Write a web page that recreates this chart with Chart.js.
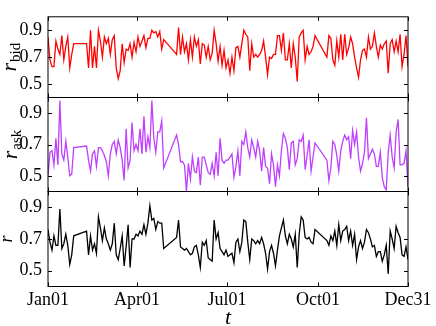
<!DOCTYPE html>
<html>
<head>
<meta charset="utf-8">
<script src="https://cdn.jsdelivr.net/npm/chart.js@4.4.1/dist/chart.umd.min.js"></script>
<style>
  html, body { margin: 0; padding: 0; background: #fff; }
  #wrap { position: relative; width: 436px; height: 326px; }
  #wrap canvas { position: absolute; left: 0; top: 0; }
</style>
</head>
<body>
<div id="wrap">
  <canvas id="bidChart" width="436" height="326"></canvas>
  <canvas id="askChart" width="436" height="326"></canvas>
  <canvas id="midChart" width="436" height="326"></canvas>
</div>
<script>
const SERIF = '"Liberation Serif", "Times New Roman", serif';

// trading-day stretches (day of year), holidays in between
const segments = [[0, 26], [39, 117], [130, 270], [282, 364]];
const tickDays = [0, 90, 181, 273, 364];
const tickLabels = ['Jan01', 'Apr01', 'Jul01', 'Oct01', 'Dec31'];
const yTicks = [0.5, 0.7, 0.9];

const bidValues = [
  0.85,0.68,0.63,0.63,0.82,0.76,0.72,0.86,0.68,0.78,0.85,0.62,0.72,0.80,
  0.80,0.62,0.90,0.62,0.78,0.62,0.90,0.82,0.70,0.85, 0.80,0.84,0.72,0.83,0.86,0.62,0.54,0.60,0.80,0.66,
  0.76,0.75,0.80,0.70,0.81,0.74,0.85,0.78,0.82,0.86, 0.77,0.84,0.84,0.90,0.88,0.89,0.85,0.89,0.76,0.83,
  0.72,0.92,0.72,0.85,0.74,0.80,0.68,0.83,0.70,0.85, 0.78,0.83,0.65,0.80,0.79,0.70,0.78,0.68,0.73,0.90,
  0.80,0.67,0.78,0.64,0.75,0.62,0.68,0.58,0.70,0.60, 0.77,0.78,0.70,0.80,0.90,0.87,0.85,0.60,0.80,0.70,
  0.72,0.70,0.72,0.75,0.82,0.70,0.57,0.70,0.69,0.72, 0.72,0.86,0.86,0.75,0.88,0.68,0.68,0.80,0.62,0.80,
  0.70,0.52,0.85,0.88,0.90,0.68,0.78,0.72,0.74,0.78, 0.86,
  0.70,0.86,0.84,0.68,0.64,0.82,0.70,0.87,0.68,0.87, 0.72,0.77,0.85,0.80,0.70,0.62,0.55,0.68,0.75,0.76,
  0.70,0.85,0.76,0.78,0.88,0.78,0.70,0.79,0.76,0.80, 0.82,0.58,0.80,0.83,0.74,0.82,0.74,0.87,0.63,0.72,
  0.86,0.63
];

const askValues = [
  0.50,0.65,0.66,0.57,0.74,0.57,0.98,0.64,0.60,0.72,0.62,0.50,0.51,0.68,
  0.69,0.60,0.53,0.64,0.66,0.56,0.68,0.68,0.66,0.63, 0.59,0.50,0.64,0.70,0.72,0.64,0.73,0.68,0.60,0.47,
  0.80,0.55,0.60,0.84,0.66,0.70,0.66,0.80,0.64,0.88, 0.65,0.75,0.68,0.98,0.74,0.65,0.78,0.78,0.85,0.55,
  0.76,0.70,0.59,0.59,0.57,0.40,0.58,0.48,0.62,0.53, 0.52,0.62,0.44,0.62,0.62,0.57,0.52,0.51,0.58,0.50,
  0.65,0.50,0.74,0.60,0.58,0.60,0.60,0.62,0.64,0.49, 0.56,0.66,0.50,0.72,0.70,0.78,0.68,0.62,0.73,0.68,
  0.62,0.72,0.66,0.53,0.68,0.56,0.55,0.45,0.64,0.57, 0.43,0.57,0.50,0.66,0.77,0.74,0.68,0.54,0.71,0.72,
  0.57,0.61,0.73,0.72,0.76,0.54,0.63,0.73,0.53,0.62, 0.71,
  0.60,0.47,0.55,0.72,0.70,0.63,0.53,0.66,0.72,0.76, 0.73,0.75,0.61,0.79,0.70,0.78,0.62,0.53,0.58,0.65,
  0.87,0.61,0.64,0.67,0.64,0.56,0.56,0.65,0.49,0.43, 0.41,0.65,0.76,0.62,0.55,0.78,0.86,0.57,0.57,0.58,
  0.66,0.43
];

const midValues = [
  0.76,0.68,0.63,0.72,0.66,0.66,0.89,0.64,0.67,0.73,0.66,0.54,0.60,0.72,
  0.75,0.60,0.72,0.63,0.67,0.61,0.84,0.77,0.69,0.77, 0.70,0.67,0.63,0.67,0.80,0.60,0.57,0.64,0.72,0.53,
  0.65,0.79,0.52,0.70,0.70,0.73,0.72,0.75,0.73,0.79, 0.73,0.80,0.91,0.82,0.83,0.76,0.81,0.80,0.80,0.64,
  0.71,0.82,0.65,0.64,0.63,0.64,0.62,0.60,0.61,0.65, 0.66,0.60,0.52,0.68,0.66,0.69,0.58,0.57,0.56,0.82,
  0.70,0.74,0.64,0.62,0.60,0.63,0.59,0.60,0.61,0.55, 0.68,0.70,0.62,0.68,0.82,0.81,0.68,0.57,0.70,0.69,
  0.67,0.69,0.67,0.71,0.67,0.61,0.51,0.62,0.66,0.61, 0.53,0.63,0.72,0.77,0.82,0.72,0.67,0.73,0.70,0.65,
  0.73,0.52,0.73,0.84,0.82,0.71,0.70,0.71,0.68,0.67, 0.76,
  0.69,0.66,0.72,0.69,0.75,0.66,0.79,0.69,0.75,0.76, 0.78,0.69,0.75,0.66,0.73,0.57,0.65,0.69,0.64,0.68,
  0.76,0.74,0.70,0.65,0.66,0.59,0.62,0.62,0.56,0.60, 0.66,0.48,0.75,0.70,0.64,0.78,0.74,0.71,0.60,0.59,
  0.65,0.57
];

const days = [];
segments.forEach(s => {
  for (let d = s[0]; d <= s[1]; d += 2) days.push(d);
});

// box round each panel, inward ticks, rotated y label with subscript
const panelFrame = {
  id: 'panelFrame',
  afterDatasetsDraw(chart, args, opts) {
    const ctx = chart.ctx;
    const a = chart.chartArea;
    const xs = chart.scales.x, ys = chart.scales.y;
    ctx.save();
    ctx.strokeStyle = '#000';
    ctx.lineWidth = 1;
    ctx.strokeRect(a.left, a.top, a.right - a.left, a.bottom - a.top);
    ctx.beginPath();
    tickDays.forEach(d => {
      const x = Math.round(xs.getPixelForValue(d)) + 0.5;
      ctx.moveTo(x, a.top); ctx.lineTo(x, a.top + 4);
      ctx.moveTo(x, a.bottom); ctx.lineTo(x, a.bottom - 4);
    });
    yTicks.forEach(v => {
      const y = Math.round(ys.getPixelForValue(v)) + 0.5;
      ctx.moveTo(a.left, y); ctx.lineTo(a.left + 4, y);
      ctx.moveTo(a.right, y); ctx.lineTo(a.right - 4, y);
    });
    ctx.stroke();

    const mid = (a.top + a.bottom) / 2;
    const mainFont = 'italic ' + opts.size + 'px ' + SERIF;
    const subFont = '15px ' + SERIF;
    ctx.font = mainFont;
    const w1 = ctx.measureText(opts.label).width;
    ctx.font = subFont;
    const w2 = opts.sub ? ctx.measureText(opts.sub).width + 1 : 0;
    ctx.fillStyle = '#000';
    ctx.textAlign = 'left';
    ctx.textBaseline = 'alphabetic';
    ctx.save();
    ctx.translate(opts.baseX, mid + (w1 + w2) / 2);
    ctx.rotate(-Math.PI / 2);
    ctx.font = mainFont;
    ctx.fillText(opts.label, 0, 0);
    if (opts.sub) {
      ctx.font = subFont;
      ctx.fillText(opts.sub, w1 + 1, 3.5);
    }
    ctx.restore();

    if (opts.xTitle) {
      ctx.font = 'italic 22px ' + SERIF;
      ctx.textAlign = 'center';
      ctx.fillText(opts.xTitle, (a.left + a.right) / 2, 324);
    }
    ctx.restore();
  }
};

function makeChart(canvasId, values, color, pad, frameOpts, showX) {
  return new Chart(document.getElementById(canvasId), {
    type: 'line',
    data: {
      datasets: [{
        data: days.map((d, i) => ({ x: d, y: values[i] })),
        borderColor: color,
        borderWidth: 1.3,
        pointRadius: 0,
        tension: 0,
        fill: false
      }]
    },
    options: {
      responsive: false,
      animation: false,
      events: [],
      layout: { padding: pad },
      plugins: {
        legend: { display: false },
        tooltip: { enabled: false },
        panelFrame: frameOpts
      },
      scales: {
        x: {
          type: 'linear',
          min: 0,
          max: 364,
          display: showX,
          grid: { display: false, drawTicks: false },
          border: { display: false },
          afterBuildTicks: s => { s.ticks = tickDays.map(v => ({ value: v })); },
          afterFit: s => { s.height = showX ? 39.5 : 0; },
          ticks: {
            autoSkip: false,
            maxRotation: 0,
            padding: 3,
            color: '#000',
            font: { family: SERIF, size: 18 },
            callback: (v, i) => tickLabels[i]
          }
        },
        y: {
          min: 0.4,
          max: 1.0,
          grid: { display: false, drawTicks: false },
          border: { display: false },
          afterBuildTicks: s => { s.ticks = yTicks.map(v => ({ value: v })); },
          afterFit: s => { s.width = 48; },
          ticks: {
            padding: 6,
            color: '#000',
            font: { family: SERIF, size: 18 },
            callback: v => v.toFixed(1)
          }
        }
      }
    },
    plugins: [panelFrame]
  });
}

makeChart('bidChart', bidValues, '#ff0000',
  { left: 0, right: 28, top: 4, bottom: 228.5 },
  { label: 'r', sub: 'bid', size: 22, baseX: 16 }, false);
makeChart('askChart', askValues, '#bf3fff',
  { left: 0, right: 28, top: 97.5, bottom: 134.5 },
  { label: 'r', sub: 'ask', size: 22, baseX: 17 }, false);
makeChart('midChart', midValues, '#000000',
  { left: 0, right: 28, top: 191.5, bottom: 0 },
  { label: 'r', sub: '', size: 18, baseX: 12, xTitle: 't' }, true);
</script>
</body>
</html>
